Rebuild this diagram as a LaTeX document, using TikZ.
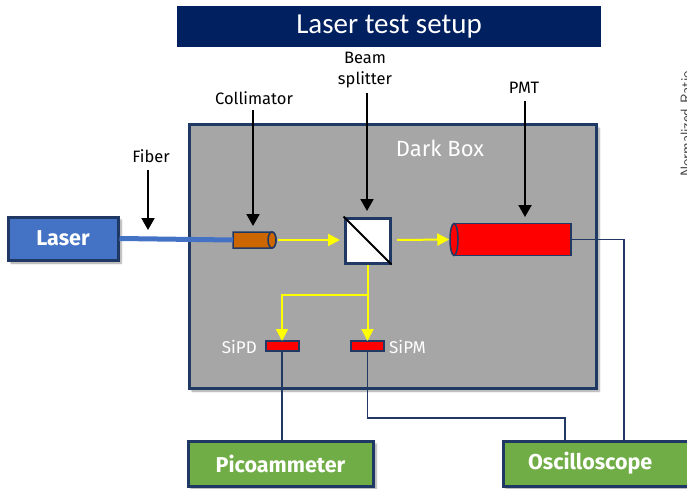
\documentclass[tikz,border=0pt]{standalone}
\usepackage{fontspec}
\setmainfont{Fira Sans}
\newfontfamily\titlefont{Carlito}
\usetikzlibrary{arrows.meta,shadows,shadows.blur,shapes.geometric}
\definecolor{navy}{RGB}{31,56,100}
\definecolor{titlebg}{RGB}{0,32,96}
\definecolor{boxgray}{RGB}{166,166,166}
\definecolor{laserblue}{RGB}{68,114,196}
\definecolor{boxgreen}{RGB}{112,173,71}
\definecolor{collorange}{RGB}{204,102,0}
\definecolor{beamyellow}{RGB}{255,255,0}
\begin{document}
\begin{tikzpicture}[x=1pt,y=-1pt,
  instr/.style={draw=navy,line width=3pt,text=white,font=\fontsize{21.5}{24}\selectfont\bfseries,
    blur shadow={shadow xshift=3pt,shadow yshift=-3pt,shadow blur steps=6,shadow opacity=40}},
  lbl/.style={font=\fontsize{16.5}{19}\selectfont,text=black,inner sep=0pt},
  wlbl/.style={font=\fontsize{17}{20}\selectfont,text=white,inner sep=0pt},
  pointer/.style={draw=black,line width=2pt,-{Triangle[length=12pt,width=13pt]}},
  beam/.style={draw=beamyellow,line width=2pt,-{Triangle[length=12pt,width=12pt]}},
  wire/.style={draw=navy,line width=1.8pt}]
\useasboundingbox (0,0) rectangle (687,489);
\begin{scope}
\clip (0,0) rectangle (687,489);
% title
\node[fill=titlebg,minimum width=424pt,minimum height=41pt,inner sep=0pt,text=white,
  font=\titlefont\fontsize{29}{32}\selectfont] (title) at (389,26.5) {Laser test setup};
% dark box
\node[instr,fill=boxgray,minimum width=407pt,minimum height=263pt,inner sep=0pt] (dark) at (392.5,256.5) {};
\node[text=white,font=\fontsize{22}{25}\selectfont,inner sep=0pt] (darklbl) at (440,148) {Dark Box};
% instruments
\node[instr,fill=laserblue,minimum width=110pt,minimum height=43pt,inner sep=0pt] (laser) at (63,238.5) {Laser};
\node[instr,fill=boxgreen,minimum width=185pt,minimum height=45pt,inner sep=0pt] (pico) at (280.5,463.5) {Picoammeter};
\node[instr,fill=boxgreen,minimum width=190pt,minimum height=45pt,inner sep=0pt,text width=190pt,align=left] (osc) at (598,463.5) {\hspace*{25pt}Oscilloscope};
% collimator
\coordinate (collL) at (233,240);
\draw[navy,line width=1.5pt,fill=collorange] (233,232) -- (272,232) arc[start angle=-90,end angle=90,x radius=4pt,y radius=-8pt] -- (233,248) -- cycle;
\draw[navy,line width=1.5pt,fill=collorange] (272,240) ellipse[x radius=4pt,y radius=8pt];
% fiber
\draw[laserblue,line width=5pt] (laser.east) -- (collL);
% beam splitter
\node[draw=navy,line width=3pt,fill=white,minimum size=45pt,inner sep=0pt] (bs) at (367.5,240.5) {};
\draw[black,line width=2pt] (bs.north west) -- (bs.south east);
% PMT
\draw[navy,line width=1.5pt,fill=red] (454,223.5) -- (571,223.5) -- (571,255.5) -- (454,255.5) -- cycle;
\node[draw=navy,line width=1.5pt,fill=red,ellipse,minimum width=8pt,minimum height=32pt,inner sep=0pt] (pmtcap) at (454,239.5) {};
\coordinate (pmtR) at (571,239.5);
% detectors
\node[draw=navy,line width=2pt,fill=red,minimum width=33pt,minimum height=10pt,inner sep=0pt] (sipd) at (282,346) {};
\node[draw=navy,line width=2pt,fill=red,minimum width=33pt,minimum height=10pt,inner sep=0pt] (sipm) at (367.5,346) {};
\node[wlbl,anchor=east] (sipdlbl) at (257,347) {SiPD};
\node[wlbl,anchor=west] (sipmlbl) at (389,347) {SiPM};
% beams
\draw[beam] (278,240) -- (340,240);
\draw[beam] (397,240) -- (pmtcap.west);
\coordinate (split) at (367.5,295);
\draw[beamyellow,line width=2pt] (bs.south) -- (split);
\draw[beam] (split) -| ([yshift=-1pt]sipd.north);
\draw[beam] (split) -- ([yshift=-1pt]sipm.north);
% wires
\draw[wire] (sipd.south) -- (pico.north -| sipd.south);
\coordinate (w1) at (367.5,418);
\coordinate (w2) at (565,418);
\draw[wire] (sipm.south) -- (w1) -- (w2) -- (565,441);
\coordinate (w3) at (624,239.5);
\draw[wire] (pmtR) -- (w3) -- (624,441);
% pointer labels
\node[lbl] (fiberlbl) at (151,156) {Fiber};
\node[lbl] (colllbl) at (254,98) {Collimator};
\node[lbl,align=center,font=\fontsize{16.5}{21}\selectfont] (bslbl) at (365,70) {Beam\\splitter};
\node[lbl] (pmtlbl) at (524,88) {PMT};
\draw[pointer] (148,170) -- (148,230);
\draw[pointer] (253,110) -- (253,226);
\draw[pointer] (367,93) -- (367,211);
\draw[pointer] (525,101) -- (525,217);
% cut-off axis label (cut by the picture's edge, as in the reference)
\node[rotate=90,text=black!75,font=\fontsize{15}{17}\selectfont\sffamily,inner sep=0pt,anchor=base] (axis) at (691,124) {Normalized Ratio};
\end{scope}
\end{tikzpicture}
\end{document}
